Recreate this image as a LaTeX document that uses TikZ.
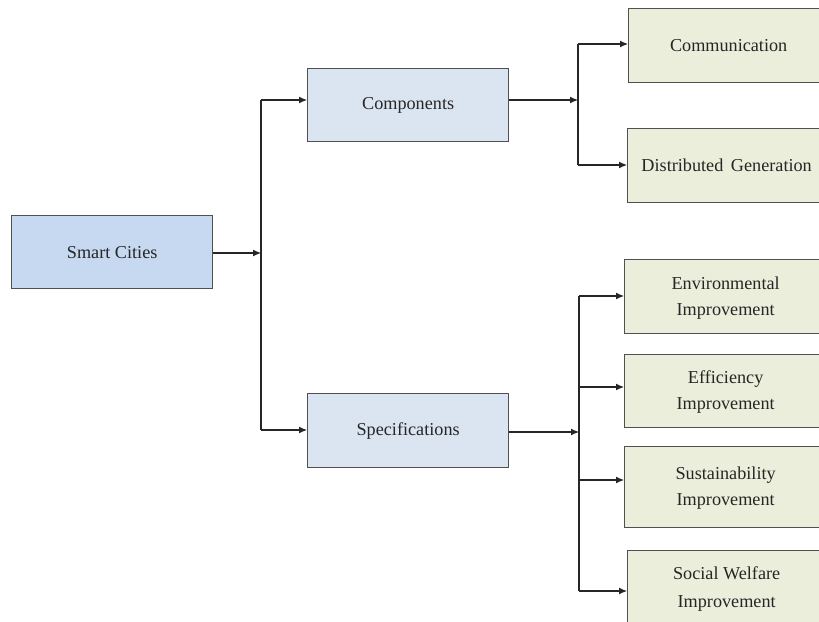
\documentclass[tikz,border=0pt]{standalone}
\usepackage{fontspec}
\setmainfont{Liberation Serif}
\usetikzlibrary{arrows.meta}
\definecolor{rootfill}{HTML}{C6D9F0}
\definecolor{midfill}{HTML}{DBE5F1}
\definecolor{leaffill}{HTML}{EBEEDB}
\definecolor{edge}{HTML}{505050}
\begin{document}
\begin{tikzpicture}[x=1pt,y=-1pt,
  box/.style={draw=edge,line width=1.3pt,anchor=north west,inner sep=0pt,align=center,font=\fontsize{18.2}{27}\selectfont,text=black!85},
  conn/.style={draw=black!85,line width=1.1pt},
  arr/.style={conn,-{Latex[length=8pt,width=7pt]}}]
\useasboundingbox (0,0) rectangle (819,621);
\fill[white] (0,0) rectangle (819,621);
\clip (0,0) rectangle (819,621);
\node[box,fill=rootfill,minimum width=201pt,minimum height=73pt] (sc) at (11,215) {Smart Cities};
\node[box,fill=midfill,minimum width=201pt,minimum height=73pt] (comp) at (307,68) {Components};
\node[box,fill=midfill,minimum width=201pt,minimum height=74pt] (spec) at (307,393) {Specifications};
\node[box,fill=leaffill,minimum width=210pt,minimum height=74pt] (comm) at (628,8) {\hspace*{-10pt}Communication};
\node[box,fill=leaffill,minimum width=210pt,minimum height=74pt] (dg) at (627,128) {\hspace*{-12pt}Distributed\, Generation};
\node[box,fill=leaffill,minimum width=210pt,minimum height=74pt] (env) at (624,259) {\hspace*{-8pt}\begin{tabular}{@{}c@{}}Environmental\\[-1pt]Improvement\end{tabular}};
\node[box,fill=leaffill,minimum width=210pt,minimum height=73pt] (eff) at (624,354) {\hspace*{-8pt}\begin{tabular}{@{}c@{}}Efficiency\\[-1pt]Improvement\end{tabular}};
\node[box,fill=leaffill,minimum width=210pt,minimum height=81pt] (sus) at (624,446) {\hspace*{-8pt}\begin{tabular}{@{}c@{}}Sustainability\\[-1pt]Improvement\end{tabular}};
\node[box,fill=leaffill,minimum width=210pt,minimum height=74pt] (soc) at (627,550) {\hspace*{-12pt}\begin{tabular}{@{}c@{}}Social Welfare\\[1pt]Improvement\end{tabular}};
\coordinate (j1) at (261,253);
\coordinate (j2) at (578,100);
\coordinate (j3) at (579,432);
\draw[arr] (sc.east |- j1) -- (j1);
\draw[conn] (261,100) -- (261,430);
\draw[arr] (261,100) -- (comp.west |- 0,100);
\draw[arr] (261,430) -- (spec.west |- 0,430);
\draw[arr] (comp.east |- j2) -- (j2);
\draw[conn] (578,44) -- (578,165);
\draw[arr] (578,44) -- (comm.west |- 0,44);
\draw[arr] (578,165) -- (dg.west |- 0,165);
\draw[arr] (spec.east |- j3) -- (j3);
\draw[conn] (579,296) -- (579,591);
\draw[arr] (579,296) -- (env.west |- 0,296);
\draw[arr] (579,387) -- (eff.west |- 0,387);
\draw[arr] (579,480) -- (sus.west |- 0,480);
\draw[arr] (579,591) -- (soc.west |- 0,591);
\end{tikzpicture}
\end{document}
